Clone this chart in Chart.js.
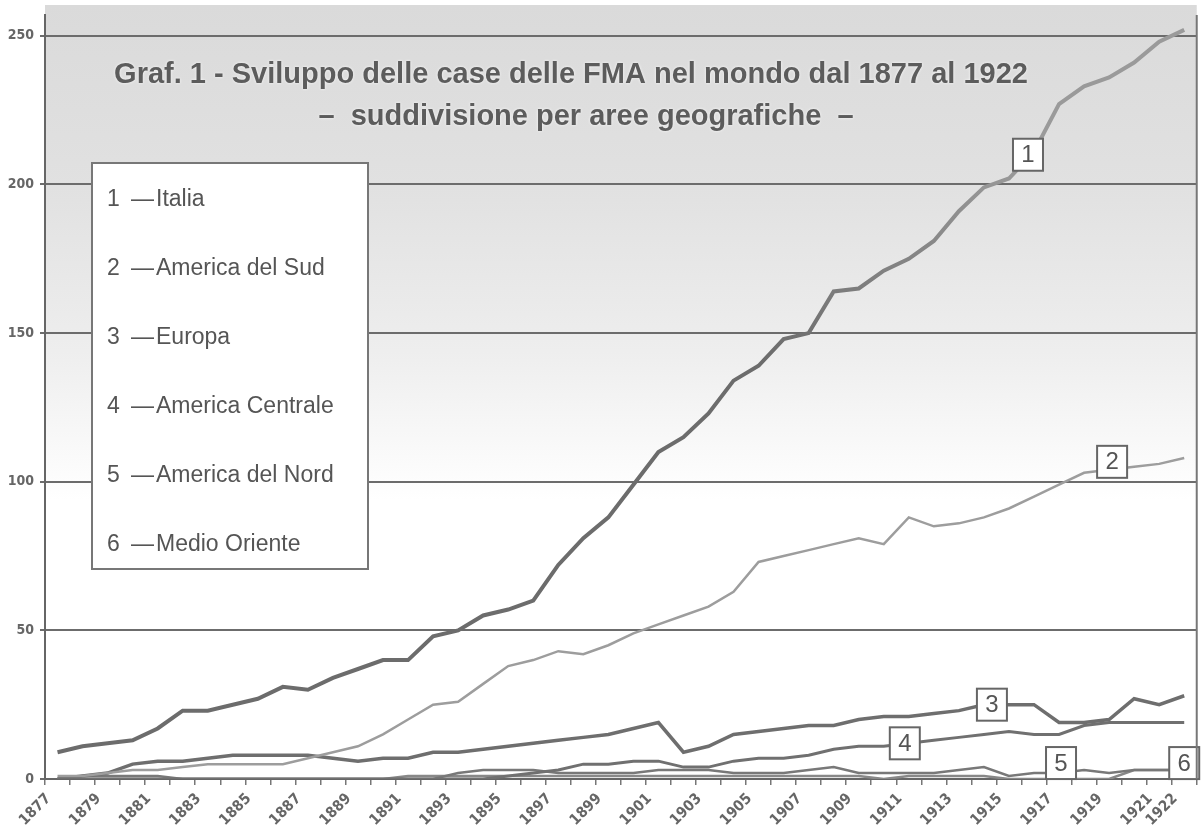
<!DOCTYPE html>
<html>
<head>
<meta charset="utf-8">
<script src="https://cdn.jsdelivr.net/npm/chart.js@4.4.1/dist/chart.umd.min.js"></script>
<style>
  html, body { margin: 0; padding: 0; background: #fff; }
</style>
</head>
<body>
<canvas id="myChart" width="1202" height="840"></canvas>
<script>
const years = ['1877','1878','1879','1880','1881','1882','1883','1884','1885','1886',
               '1887','1888','1889','1890','1891','1892','1893','1894','1895','1896',
               '1897','1898','1899','1900','1901','1902','1903','1904','1905','1906',
               '1907','1908','1909','1910','1911','1912','1913','1914','1915','1916',
               '1917','1918','1919','1920','1921','1922']
const names = ['Italia', 'America del Sud', 'Europa', 'America Centrale', 'America del Nord', 'Medio Oriente']
const italia = [9,11,12,13,17,23,23,25,27,31, 30,34,37,40,40,48,50,55,57,60, 72,81,88,99,110,115,123,134,139,148,
                150,164,165,171,175,181,191,199,202,211, 227,233,236,241,248,252]
const sud = [1,1,2,3,3,4,5,5,5,5, 7,9,11,15,20,25,26,32,38,40, 43,42,45,49,52,55,58,63,73,75,
             77,79,81,79,88,85,86,88,91,95, 99,103,104,105,106,108]
const europa = [0,1,2,5,6,6,7,8,8,8, 8,7,6,7,7,9,9,10,11,12, 13,14,15,17,19,9,11,15,16,17,
                18,18,20,21,21,22,23,25,25,25, 19,19,20,27,25,28]
const centrale = [0,0,0,0,0,0,0,0,0,0, 0,0,0,0,0,0,0,0,1,2, 3,5,5,6,6,4,4,6,7,7,
                  8,10,11,11,12,13,14,15,16,15, 15,18,19,19,19,19]
const nord = [0,1,1,1,1,0,0,0,0,0, 0,0,0,0,0,0,2,3,3,3, 2,2,2,2,3,3,3,2,2,2,
              3,4,2,2,2,2,3,4,1,2, 2,3,2,3,3,3]
const oriente = [0,0,0,0,0,0,0,0,0,0, 0,0,0,0,1,1,1,1,1,1, 1,1,1,1,1,1,1,1,1,1,
                 1,1,1,0,1,1,1,1,0,0, 0,0,0,3,3,3]
const yTicks = [0, 50, 100, 150, 200, 250]
const titleLines = ['Graf. 1 - Sviluppo delle case delle FMA nel mondo dal 1877 al 1922',
                    '\u2013  suddivisione per aree geografiche  \u2013']

const narrow = '"Liberation Sans Narrow", "DejaVu Sans Condensed", sans-serif'

// scan-like grey shading behind the upper part of the plot
const backdrop = {
    id: 'backdrop',
    beforeDraw(chart) {
        const {ctx, chartArea: a} = chart
        ctx.save()
        ctx.fillStyle = '#fff'
        ctx.fillRect(0, 0, chart.width, chart.height)
        const g = ctx.createLinearGradient(0, 5, 0, 500)
        g.addColorStop(0, '#dadada')
        g.addColorStop(0.37, '#e1e1e1')
        g.addColorStop(0.7, '#eeeeee')
        g.addColorStop(1, '#ffffff')
        ctx.fillStyle = g
        ctx.fillRect(a.left, 5, a.right - a.left, 495)
        ctx.restore()
    },
    afterDraw(chart) {
        const {ctx, chartArea: a} = chart
        ctx.save()
        ctx.strokeStyle = '#777'
        ctx.lineWidth = 2
        ctx.beginPath()
        ctx.moveTo(a.right, a.top)
        ctx.lineTo(a.right, a.bottom)
        ctx.stroke()
        ctx.restore()
    }
}

// title, legend box and the numbered tags on the lines
const annotations = {
    id: 'annotations',
    afterDatasetsDraw(chart, args, opts) {
        const ctx = chart.ctx
        ctx.save()
        // title
        ctx.fillStyle = '#5c5c5c'
        ctx.font = 'bold 29px "Liberation Sans", Arial, sans-serif'
        ctx.textAlign = 'center'
        ctx.textBaseline = 'middle'
        ctx.shadowColor = 'rgba(255,255,255,0.9)'
        ctx.shadowBlur = 3
        ctx.fillText(titleLines[0], 571, 75)
        ctx.fillText(titleLines[1], 586, 117)
        ctx.shadowBlur = 0

        // legend
        ctx.fillStyle = '#fff'
        ctx.fillRect(92, 163, 276, 406)
        ctx.strokeStyle = '#777'
        ctx.lineWidth = 2
        ctx.strokeRect(92, 163, 276, 406)
        ctx.fillStyle = '#555'
        ctx.font = '23px "Liberation Sans", Arial, sans-serif'
        ctx.textAlign = 'left'
        names.forEach((n, i) => {
            const y = 200 + i * 69
            ctx.fillText(String(i + 1), 107, y)
            ctx.fillText('\u2014', 131, y)
            ctx.fillText(n, 156, y)
        })

        // tags
        ctx.font = '24px "Liberation Sans", Arial, sans-serif'
        ctx.textAlign = 'center'
        opts.tags.forEach(t => {
            const p = chart.getDatasetMeta(t.ds).data[t.idx]
            const cx = p.x + t.dx, cy = p.y + t.dy
            ctx.fillStyle = '#fff'
            ctx.fillRect(cx - 15, cy - 16, 30, 32)
            ctx.strokeStyle = '#666'
            ctx.lineWidth = 2
            ctx.strokeRect(cx - 15, cy - 16, 30, 32)
            ctx.fillStyle = '#555'
            ctx.fillText(String(t.ds + 1), cx, cy + 1)
        })
        ctx.restore()
    }
}

function fadeGrey(dark, light) {
    return function(c) {
        const a = c.chart.chartArea
        if (!a) return dark
        const g = c.chart.ctx.createLinearGradient(0, a.bottom, 0, a.top)
        g.addColorStop(0, dark)
        g.addColorStop(0.55, dark)
        g.addColorStop(0.8, light)
        g.addColorStop(1, light)
        return g
    }
}

new Chart('myChart', {
    type: 'line',
    data: {
        labels: years,
        datasets: [
            {label: names[0], data: italia, borderColor: fadeGrey('#6c6c6c', '#9a9a9a'), borderWidth: 4},
            {label: names[1], data: sud, borderColor: '#9d9d9d', borderWidth: 2.5},
            {label: names[2], data: europa, borderColor: '#6e6e6e', borderWidth: 3.5},
            {label: names[3], data: centrale, borderColor: '#707070', borderWidth: 3},
            {label: names[4], data: nord, borderColor: '#787878', borderWidth: 2.5},
            {label: names[5], data: oriente, borderColor: '#888', borderWidth: 2.5}
        ]
    },
    options: {
        responsive: false,
        animation: false,
        layout: {padding: {top: 15, right: 5, left: 0, bottom: 0}},
        elements: {point: {radius: 0}, line: {tension: 0, fill: false}},
        plugins: {
            legend: {display: false},
            tooltip: {enabled: false},
            annotations: {
                tags: [
                    {ds: 0, idx: 39, dx: -6, dy: 3},
                    {ds: 1, idx: 42, dx: 3, dy: -8},
                    {ds: 2, idx: 37, dx: 8, dy: 0},
                    {ds: 3, idx: 34, dx: -4, dy: 0},
                    {ds: 4, idx: 40, dx: 2, dy: -10},
                    {ds: 5, idx: 45, dx: 0, dy: -7}
                ]
            }
        },
        scales: {
            x: {
                offset: true,
                afterFit(s) { s.height = 61 },
                grid: {offset: true, drawOnChartArea: false, drawTicks: true, tickLength: 6, color: '#777', lineWidth: 1.5},
                border: {display: true, color: '#666', width: 2},
                ticks: {
                    autoSkip: false, maxRotation: 45, minRotation: 45, labelOffset: -9, padding: 5,
                    color: '#666', font: {family: narrow, size: 15, weight: 'bold'},
                    callback: (v, i) => (i % 2 === 0 || i === years.length - 1) ? years[i] : ''
                }
            },
            y: {
                min: 0, max: 257,
                afterFit(s) { s.width = 45 },
                afterBuildTicks(s) { s.ticks = yTicks.map(v => ({value: v})) },
                grid: {color: '#6c6c6c', lineWidth: 2, tickLength: 5},
                border: {display: true, color: '#666', width: 2},
                ticks: {color: '#666', padding: 6, font: {family: narrow, size: 14, weight: 'bold'}}
            }
        }
    },
    plugins: [backdrop, annotations]
})
</script>
</body>
</html>
